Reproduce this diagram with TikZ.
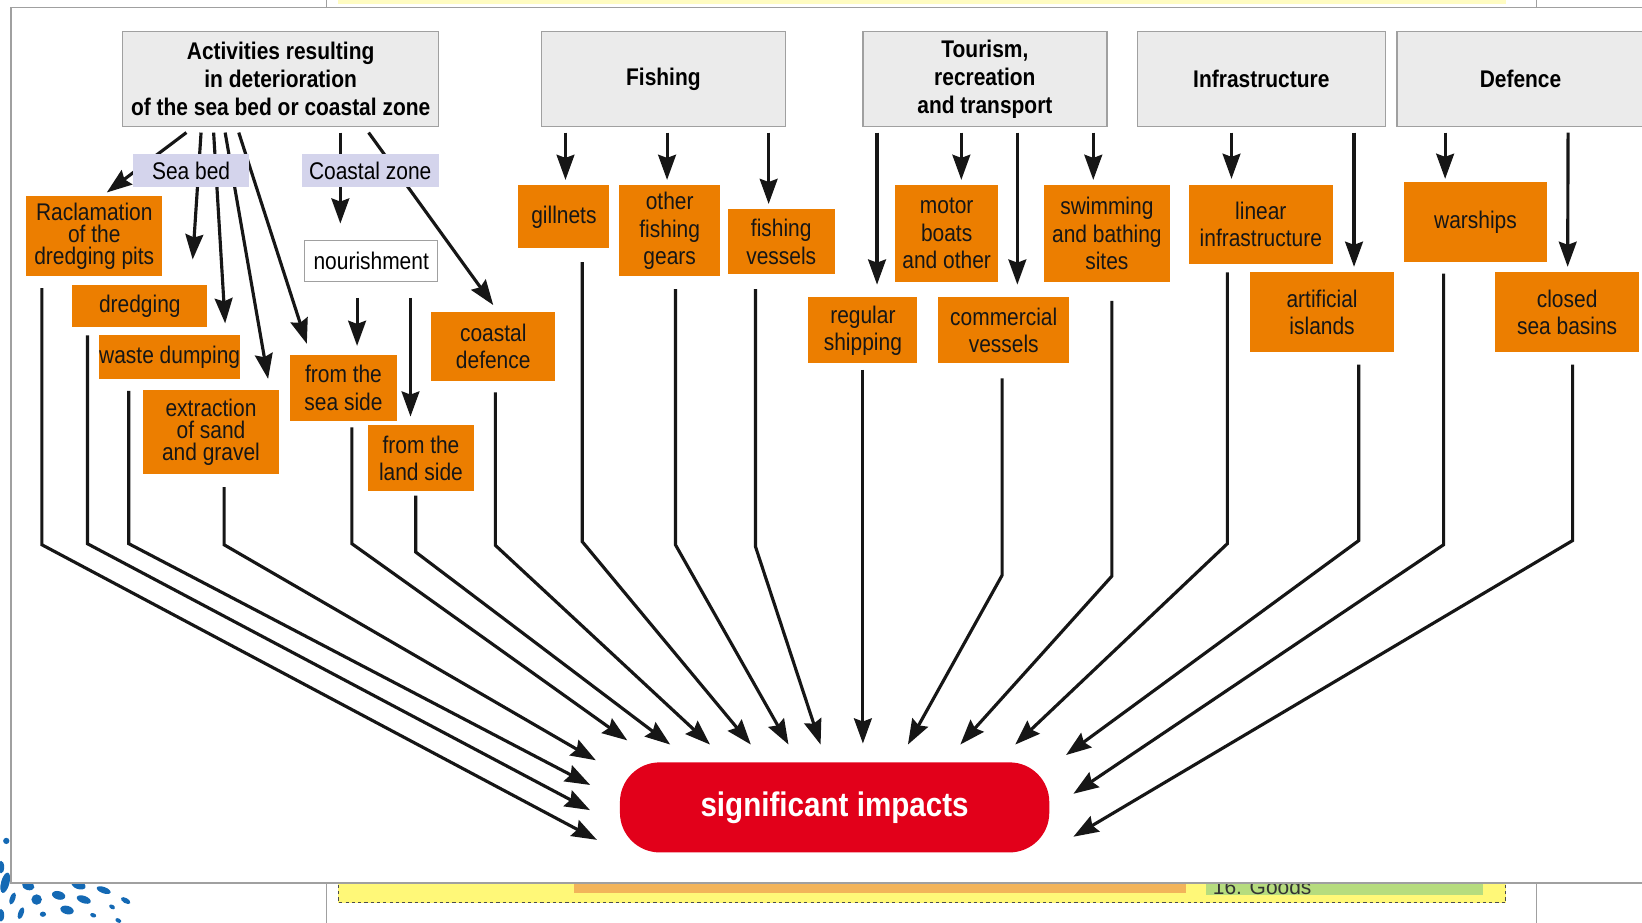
\documentclass[tikz,border=0pt]{standalone}
\usepackage{fontspec}
\setmainfont{Liberation Sans}[FakeStretch=0.87]
\newfontfamily\plainsans{Liberation Sans}
\usetikzlibrary{arrows.meta,calc}
\definecolor{itemOrange}{RGB}{236,126,0}
\definecolor{headGray}{RGB}{235,235,235}
\definecolor{frameGray}{RGB}{160,160,160}
\definecolor{groupLilac}{RGB}{212,212,236}
\definecolor{impactRed}{RGB}{226,0,26}
\definecolor{lineBlack}{RGB}{22,22,22}
\definecolor{stripYellow}{RGB}{255,248,120}
\definecolor{stripOrange}{RGB}{242,180,90}
\definecolor{stripGreen}{RGB}{182,220,126}
\definecolor{dotBlue}{RGB}{20,105,180}

\begin{document}
\begin{tikzpicture}
[x=1pt,y=-1pt,
  headDecorate/.style={draw=frameGray,line width=1.2pt,fill=headGray,inner sep=0pt,
    minimum height=91pt,align=center,font=\fontsize{23}{27}\selectfont\bfseries},%
  groupDecorate/.style={fill=groupLilac,inner sep=0pt,minimum height=32pt,
    font=\fontsize{23}{26}\selectfont},%
  whiteDecorate/.style={draw=frameGray,line width=1pt,fill=white,inner sep=0pt,
    minimum height=39pt,font=\fontsize{23}{26}\selectfont},%
  itemDecorate/.style={fill=itemOrange,inner sep=0pt,align=center,text=lineBlack,
    font=\fontsize{23}{26}\selectfont},%
  tightItem/.style={font=\fontsize{23}{21}\selectfont},%
  impactDecorate/.style={fill=impactRed,rounded corners=38pt,inner sep=0pt,
    minimum width=410pt,minimum height=86pt,text=white,
    font=\fontsize{32.5}{36}\selectfont\bfseries},%
  arrowDecorate/.style={-{Stealth[length=24pt,width=17pt,inset=3pt]},line width=3pt,
    draw=lineBlack}]
\useasboundingbox (0,0) rectangle (1568,881);
\clip (0,0) rectangle (1568,881);

%% page behind the panel
\draw[frameGray,line width=0.8pt] (312,0) -- (312,7) (1467,0) -- (1467,7);
\fill[stripYellow!45] (323,0) rectangle (1438,4);
\draw[frameGray,line width=0.8pt] (312,843) -- (312,881) (1467,843) -- (1467,881);
\fill[stripYellow] (323,836) rectangle (1438,862);
\draw[black!70,dashed,line width=1pt] (323,845) -- (323,862) -- (1438,862) -- (1438,845);
\fill[stripOrange] (548,836) rectangle (1133,852.5);
\fill[stripGreen] (1152,836) rectangle (1416,855);
\node[anchor=base west,inner sep=0pt,text=black!80,font=\plainsans\fontsize{20}{24}\selectfont]
  (goods) at (1158,854) {16. Goods};
\foreach \x/\y/\rx/\ry/\r in {6/803/3/3/0, 1/828/3/6/0, 5/843/4/10/-15, 27/846/6/4/-15,
  75/845/7/4/-20, 99/850/7/3/-20, 120/860/5/2.5/-30, 12/858/2.5/6/-20, 35/859/5/5/0,
  56/855/6.5/4/-15, 80/859/7/3.5/-20, 107/866/3/2/-30, 20/872/2.5/6/-20, 41/873/3/2.5/0,
  64/869/6.5/4/-15, 89/874/3/2/-20, 113/879/3/2/-30, 1/874/3/6/0}
{
  \fill[dotBlue] (\x,\y) ellipse [x radius=\rx pt,y radius=\ry pt,rotate=\r];
}
\draw[frameGray,line width=1.4pt,fill=white] (10.5,843) -- (10.5,7) -- (1600,7)
  -- (1600,843) -- cycle;

%% group headers
\node (act) at (268,75.5) [headDecorate,minimum width=302pt]
  {Activities resulting\\in deterioration\\of the sea bed or coastal zone};
\node (fish) at (633.5,75.5) [headDecorate,minimum width=233pt] {Fishing};
\node (tour) at (940.5,75.5) [headDecorate,minimum width=233pt]
  {Tourism,\\recreation\\and transport};
\node (infra) at (1204.5,75.5) [headDecorate,minimum width=237pt] {Infrastructure};
\node (def) at (1452,75.5) [headDecorate,minimum width=236pt] {Defence};

%% activities
\node (recl) at (90,225.5) [itemDecorate,tightItem,minimum width=130pt,minimum height=77pt]
  {Raclamation\\of the\\dredging pits};
\node (dredg) at (133.5,292) [itemDecorate,minimum width=129pt,minimum height=40pt] {dredging};
\node (waste) at (162,341) [itemDecorate,minimum width=130pt,minimum height=42pt] {waste dumping};
\node (extr) at (201.5,412.5) [itemDecorate,tightItem,minimum width=129pt,minimum height=81pt]
  {extraction\\of sand\\and gravel};
\node (nourish) at (354.5,249.5) [whiteDecorate,minimum width=127pt] {nourishment};
\node (seaside) at (328,370.5) [itemDecorate,minimum width=102pt,minimum height=63pt]
  {from the\\sea side};
\node (landside) at (402,437.5) [itemDecorate,minimum width=102pt,minimum height=63pt]
  {from the\\land side};
\node (cdef) at (471,330.5) [itemDecorate,minimum width=118pt,minimum height=66pt]
  {coastal\\defence};
\node (gill) at (538.5,207) [itemDecorate,minimum width=87pt,minimum height=60pt] {gillnets};
\node (gears) at (639.5,220.5) [itemDecorate,minimum width=97pt,minimum height=87pt]
  {other\\fishing\\gears};
\node (fves) at (746,231) [itemDecorate,minimum width=102pt,minimum height=62pt]
  {fishing\\vessels};
\node (regship) at (824,315.5) [itemDecorate,minimum width=104pt,minimum height=63pt]
  {regular\\shipping};
\node (motor) at (904,223) [itemDecorate,minimum width=98pt,minimum height=92pt]
  {motor\\boats\\and other};
\node (comm) at (958.5,315.5) [itemDecorate,minimum width=125pt,minimum height=63pt]
  {commercial\\vessels};
\node (swim) at (1057,223) [itemDecorate,minimum width=120pt,minimum height=92pt]
  {swimming\\and bathing\\sites};
\node (linear) at (1204,214.5) [itemDecorate,minimum width=137pt,minimum height=75pt]
  {linear\\infrastructure};
\node (islands) at (1262.5,298) [itemDecorate,minimum width=137pt,minimum height=76pt]
  {artificial\\islands};
\node (warships) at (1409,212) [itemDecorate,minimum width=137pt,minimum height=76pt] {warships};
\node (basins) at (1496.5,298) [itemDecorate,minimum width=137pt,minimum height=76pt]
  {closed\\sea basins};

\node (impacts) at (797,771) [impactDecorate] {significant impacts};

%% arrows from the headers
\foreach \src/\sx/\sy/\dst/\tx/\ty in {
  act/-90/5/recl/12/3, act/-76/5/dredg/50.5/24, act/-64/5/waste/53/11,
  act/-53/5/extr/54.5/10, act/-40/5/seaside/-35/10.5, act/57/5/nourish/-29.5/16,
  act/84/5/cdef/0/6, nourish/-13.5/15/seaside/13/8.5, nourish/37.5/15/landside/-10/8,
  fish/-93.5/5/gill/1.5/5, fish/3.5/5/gears/-2.5/5, fish/100.5/5/fves/-12/5,
  tour/-103/5/regship/13.5/12, tour/-22.5/5/motor/14/5, tour/31/5/comm/13/12,
  tour/103.5/5/swim/-13/5, infra/-28.5/5/linear/-28/6, infra/88.5/5/islands/30.5/5,
  def/-72/5/warships/-29/3, def/45.4/5/basins/0.5/5}
{
  \draw[arrowDecorate] ([xshift=\sx pt,yshift=-\sy pt]\src.south)
    -- ([xshift=\tx pt,yshift=\ty pt]\dst.north);
}

%% group labels
\node (seabed) at (182.5,163) [groupDecorate,minimum width=111pt] {Sea bed};
\node (coastal) at (353.5,163) [groupDecorate,minimum width=131pt] {Coastal zone};

%% arrows to the impacts
\foreach \src/\dx/\gap/\drop/\tx/\ty in {
  recl/-50/11/245/-227/31, dredg/-50/8/199/-233.6/2.6, waste/-39/11/146/-233.4/-21.4,
  extr/12.5/12/55/-228/-45, seaside/8/6/111/-198/-64, landside/-5/4/54/-157/-60,
  cdef/2/11/146/-119/-60, gill/17.5/13/267/-80/-60, gears/5.5/12/244/-44/-60,
  fves/-24.5/14/246/-13.4/-60, comm/-1.5/14/188/70/-60, swim/4.7/18/263/120/-60,
  linear/-32/8/259/172.5/-60, islands/35/12/168/221/-50, warships/-30.5/11/259/228/-13,
  basins/5.2/12/168/228/28}
{
  \draw[arrowDecorate] ([xshift=\dx pt,yshift=-\gap pt]\src.south) -- ++(0,\drop)
    -- ($(impacts.center)+(\tx,\ty)$);
}
\draw[arrowDecorate] ([yshift=-6pt]regship.south) -- ($(impacts.center)+(27,-61)$);
\end{tikzpicture}
\end{document}
